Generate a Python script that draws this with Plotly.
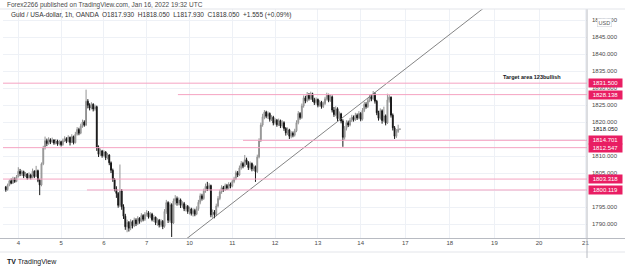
import plotly.graph_objects as go

# ---------------- data ----------------
first_open = 1801.0
closes = [
    1800.2,1801.5,1802.8,1802.1,1803.4,1802.6,1804.0,1805.6,1804.9,1805.5,
    1804.2,1804.8,1803.6,1804.5,1803.8,1805.6,1804.1,1805.8,1803.0,1801.6,
    1807.8,1812.5,1814.6,1813.8,1814.9,1814.2,1814.8,1813.9,1814.5,1813.6,
    1814.3,1813.4,1814.6,1815.2,1814.4,1815.6,1814.1,1815.8,1814.0,1816.5,
    1817.9,1816.8,1818.9,1820.1,1819.2,
    1826.2,1825.0,1824.2,1825.3,1823.9,1824.6,1812.5,
    1810.6,1811.6,1810.2,1811.3,1809.6,1810.4,1808.1,1805.9,1803.2,1800.4,
    1799.1,1795.6,1799.8,1795.2,1792.4,1789.3,1790.6,1788.9,1790.8,1789.6,
    1791.3,1790.2,1791.8,1790.9,1792.6,1791.5,1792.9,1793.4,1792.2,1793.0,
    1791.4,1792.1,1790.5,1791.2,1789.8,1790.9,1789.4,
    1793.8,1796.4,1791.2,1795.8,1790.4,1796.9,1797.6,1796.3,1797.2,1795.6,
    1796.1,1794.6,1795.3,1793.8,1794.5,1793.2,1794.1,1793.0,1794.6,1796.5,
    1798.4,1797.6,1799.8,1801.2,1800.5,1801.4,1792.8,1793.6,1792.9,1795.4,
    1797.6,1799.5,1800.8,1800.2,1801.4,1800.7,1801.8,1801.2,1802.6,1803.4,
    1805.2,1804.5,1806.6,1807.9,1807.1,1809.0,1808.2,1806.7,1807.9,1806.3,
    1807.0,1805.5,1809.8,1814.6,1819.2,1821.6,1823.0,
    1821.8,1822.6,1820.9,1821.5,1819.8,1820.6,1819.3,1820.5,1818.9,1819.9,
    1818.2,1816.9,1817.8,1815.9,1816.8,1816.2,1817.5,1819.9,1822.6,1821.4,
    1824.8,1827.2,1826.3,1828.1,1827.0,1828.4,1826.6,1825.8,1826.7,1825.0,
    1825.9,1824.6,1825.5,1826.9,1828.0,1826.4,1827.5,1823.6,1822.3,1824.0,
    1821.1,1822.5,1820.4,1815.6,1818.2,1819.9,1819.2,1820.6,1821.5,1820.8,
    1822.1,1821.3,1822.6,1820.9,1823.5,1825.3,1824.6,1826.4,1827.5,1826.9,
    1828.3,1826.2,1822.8,1821.2,1823.4,1820.5,1821.9,1819.8,1826.6,1827.4,
    1822.1,1818.4,1815.9,1817.3,1817.93,1818.05,
]
highs = [
    1801.3,1802.0,1803.2,1803.5,1804.0,1803.8,1804.5,1806.8,1806.3,1806.0,
    1805.8,1805.4,1805.1,1805.3,1804.9,1806.4,1805.9,1807.2,1806.1,1803.4,
    1808.2,1813.1,1815.8,1815.2,1815.6,1815.3,1815.5,1815.0,1815.1,1814.9,
    1814.8,1814.6,1815.2,1815.9,1815.6,1816.2,1815.8,1816.5,1816.1,1817.2,
    1818.6,1818.4,1819.6,1820.8,1820.6,
    1829.6,1826.8,1825.6,1825.9,1825.6,1825.2,1824.9,
    1813.2,1812.3,1811.9,1811.8,1811.5,1811.0,1810.6,1808.5,1806.4,1803.6,
    1801.2,1799.5,1807.6,1800.4,1795.9,1793.1,1791.4,1791.0,1791.5,1791.2,
    1792.0,1791.8,1792.4,1792.1,1793.3,1793.0,1793.6,1794.2,1793.9,1793.6,
    1793.4,1792.8,1792.3,1791.8,1791.6,1791.5,1791.3,
    1794.5,1797.2,1796.8,1796.5,1796.2,1797.6,1798.6,1798.2,1797.9,1797.6,
    1796.8,1796.6,1795.9,1795.7,1795.2,1794.9,1794.7,1794.6,1795.3,1797.2,
    1799.1,1799.0,1800.5,1802.0,1802.5,1802.1,1801.7,1794.4,1794.2,1796.1,
    1798.3,1800.2,1801.5,1801.3,1802.0,1801.9,1802.4,1802.3,1803.2,1804.0,
    1805.8,1805.7,1807.3,1808.6,1808.4,1810.4,1809.6,1808.6,1808.5,1808.2,
    1807.6,1807.3,1810.5,1815.3,1819.9,1822.5,1823.6,
    1823.4,1823.2,1822.9,1822.1,1821.9,1821.2,1821.0,1821.1,1820.8,1820.6,
    1820.3,1818.6,1818.5,1818.1,1817.4,1817.3,1818.1,1820.6,1823.3,1823.0,
    1825.5,1827.9,1827.8,1828.9,1828.6,1829.0,1828.7,1827.2,1827.3,1827.0,
    1826.5,1826.3,1826.1,1827.5,1828.7,1828.4,1828.2,1827.9,1824.5,1824.7,
    1824.4,1823.2,1822.8,1820.9,1818.9,1820.6,1820.5,1821.3,1822.2,1822.0,
    1822.8,1822.6,1823.3,1823.0,1824.2,1826.0,1825.9,1827.1,1828.2,1828.3,
    1829.2,1828.8,1826.6,1823.4,1824.1,1823.8,1824.6,1822.3,1828.4,1828.0,
    1827.6,1822.6,1818.9,1818.0,1819.3,1818.05,
]
lows = [
    1799.6,1799.9,1801.2,1801.8,1801.9,1802.2,1802.4,1803.8,1804.2,1804.3,
    1803.6,1803.9,1803.1,1803.4,1803.2,1803.5,1803.6,1803.9,1802.4,1798.6,
    1801.2,1807.4,1812.0,1813.0,1813.4,1813.6,1813.9,1813.4,1813.5,1813.1,
    1813.2,1812.9,1813.1,1814.2,1813.9,1814.1,1813.2,1813.9,1813.5,1813.8,
    1816.1,1816.2,1816.5,1818.4,1818.7,
    1818.9,1824.1,1823.5,1823.8,1823.2,1823.4,1811.6,
    1809.8,1810.1,1809.6,1809.9,1808.9,1809.1,1807.4,1805.1,1802.5,1799.7,
    1797.8,1794.9,1795.1,1794.3,1791.6,1788.4,1787.7,1787.9,1788.3,1788.8,
    1789.2,1789.5,1789.8,1790.2,1790.6,1790.9,1791.0,1792.3,1791.7,1791.8,
    1790.9,1790.7,1789.8,1789.6,1789.1,1789.2,1788.6,
    1789.0,1793.1,1790.4,1790.6,1786.3,1790.1,1795.8,1795.5,1795.6,1794.8,
    1794.9,1793.9,1793.8,1793.1,1792.9,1792.6,1792.3,1792.4,1792.7,1794.0,
    1795.9,1797.0,1797.2,1799.3,1799.8,1800.0,1792.1,1791.9,1791.8,1792.4,
    1795.0,1797.1,1799.0,1799.6,1799.8,1800.1,1800.2,1800.6,1800.9,1802.1,
    1803.0,1803.9,1804.2,1806.1,1806.5,1806.9,1807.5,1806.0,1806.1,1805.6,
    1805.7,1802.5,1805.1,1809.4,1814.2,1818.7,1820.9,
    1821.2,1821.0,1820.2,1820.4,1819.1,1819.3,1818.7,1818.9,1818.3,1818.4,
    1817.5,1816.1,1816.3,1815.1,1815.3,1815.6,1815.8,1817.1,1819.4,1820.8,
    1821.0,1824.3,1825.6,1825.9,1826.4,1826.6,1826.0,1825.1,1825.2,1824.4,
    1824.6,1824.0,1824.2,1825.1,1826.4,1825.9,1826.0,1822.9,1821.6,1821.8,
    1820.4,1820.6,1819.7,1812.8,1814.9,1817.6,1818.6,1818.8,1820.1,1820.2,
    1820.4,1820.7,1820.9,1820.3,1820.5,1823.0,1824.0,1824.2,1825.9,1826.2,
    1826.5,1825.5,1822.1,1820.5,1820.8,1819.6,1820.1,1819.1,1819.5,1825.8,
    1821.4,1817.6,1815.1,1815.4,1816.9,1817.93,
]
day_labels = ["4", "5", "6", "7", "10", "11", "12", "13", "14", "17", "18", "19", "20", "21"]
day_hours = [7, 31, 55, 79, 103, 127, 151, 175, 199, 224, 249, 274, 299, 325]

level_values = [1831.500, 1828.138, 1814.701, 1812.547, 1803.318, 1800.119]
level_start_hours = [None, 96.5, 133.0, None, None, 45.5]

trend_hours = [95, 270]
trend_prices = [1783.2, 1854.4]

last_price = 1818.050

# ---------------- layout geometry ----------------
W, H = 625, 271
L, R, T, B = 3, 38, 9, 33
PW, PH = W - L - R, H - T - B
X_RANGE = [-1.58, 325.9]
Y_RANGE = [1786.0, 1853.3]


def fx(px):
    return (px - L) / PW


def fy(py):
    return (H - B - py) / PH


opens = [first_open] + closes[:-1]
hours = list(range(len(closes)))

fig = go.Figure()
fig.add_trace(go.Candlestick(
    x=hours, open=opens, high=highs, low=lows, close=closes,
    increasing=dict(line=dict(color="#939393", width=1), fillcolor="#b8b8b8"),
    decreasing=dict(line=dict(color="#161616", width=1), fillcolor="#161616"),
    whiskerwidth=0, hoverinfo="skip", showlegend=False,
))

fig.add_trace(go.Scatter(
    x=trend_hours, y=trend_prices, mode="lines",
    line=dict(color="#666666", width=0.8), hoverinfo="skip", showlegend=False,
))

shapes = []
annotations = []
pink_line = "#f5a3c2"
pink_box = "#e91e63"
for val, start in zip(level_values, level_start_hours):
    x0 = X_RANGE[0] if start is None else start
    shapes.append(dict(type="line", xref="x", yref="y", x0=x0, x1=X_RANGE[1],
                       y0=val, y1=val, line=dict(color=pink_line, width=1), layer="above"))
    annotations.append(dict(xref="paper", yref="y", x=fx(588), y=val, xanchor="left",
                            yanchor="middle", text=f"{val:.3f}", showarrow=False,
                            bgcolor=pink_box, font=dict(color="white", size=6, family="Liberation Sans"),
                            width=33, height=8, borderpad=0, align="center"))

annotations.append(dict(xref="paper", yref="y", x=fx(589), y=last_price, xanchor="left",
                        yanchor="middle", text=f"{last_price:.3f}", showarrow=False,
                        bgcolor="white", font=dict(color="#131722", size=6, family="Liberation Sans"),
                        width=31, height=7, borderpad=0))

# Target text
annotations.append(dict(xref="paper", yref="paper", x=fx(501), y=fy(77), xanchor="left",
                        yanchor="middle", text="<b>Target area 123bullish</b>", showarrow=False,
                        font=dict(color="#131722", size=5.5, family="Liberation Sans")))

# headers
annotations.append(dict(xref="paper", yref="paper", x=fx(5), y=fy(5), xanchor="left",
                        yanchor="middle", showarrow=False,
                        text="Forex2266 published on TradingView.com, Jan 16, 2022 19:32 UTC",
                        font=dict(color="#4a4a4a", size=6.5, family="Liberation Sans")))
annotations.append(dict(xref="paper", yref="paper", x=fx(9), y=fy(15), xanchor="left",
                        yanchor="middle", showarrow=False,
                        text="Guld / USA-dollar, 1h, OANDA  O1817.930  H1818.050  L1817.930  C1818.050  +1.555 (+0.09%)",
                        font=dict(color="#333333", size=6.5, family="Liberation Sans")))
# USD box
annotations.append(dict(xref="paper", yref="paper", x=fx(604), y=fy(22), xanchor="center",
                        yanchor="middle", showarrow=False, text="USD",
                        bgcolor="white", bordercolor="#d1d4dc", borderwidth=0.6, borderpad=1,
                        font=dict(color="#555555", size=5.5, family="Liberation Sans")))
# TradingView footer
annotations.append(dict(xref="paper", yref="paper", x=fx(5), y=fy(262), xanchor="left",
                        yanchor="middle", showarrow=False,
                        text="<b>TV</b> TradingView",
                        font=dict(color="#131722", size=7, family="Liberation Sans")))

# frame lines
shapes += [
    dict(type="line", xref="paper", yref="paper", x0=fx(0), x1=fx(625), y0=fy(238.5), y1=fy(238.5),
         line=dict(color="#b8bbc2", width=1.2)),
    dict(type="line", xref="paper", yref="paper", x0=fx(0), x1=fx(625), y0=fy(252), y1=fy(252),
         line=dict(color="#e3e5ea", width=1)),
    dict(type="line", xref="paper", yref="paper", x0=fx(587), x1=fx(587), y0=fy(9), y1=fy(258),
         line=dict(color="#b8bbc2", width=1)),
    dict(type="line", xref="paper", yref="paper", x0=fx(0), x1=fx(625), y0=fy(9), y1=fy(9),
         line=dict(color="#e3e5ea", width=1)),
]

fig.update_layout(
    width=W, height=H,
    margin=dict(l=L, r=R, t=T, b=B, pad=0),
    paper_bgcolor="white", plot_bgcolor="white",
    shapes=shapes, annotations=annotations,
    font=dict(family="Liberation Sans", size=6, color="#4a4a4a"),
    xaxis=dict(range=X_RANGE, tickvals=day_hours, ticktext=day_labels,
               showgrid=True, gridcolor="#eef1f6", gridwidth=1, zeroline=False,
               showline=False, ticks="", tickfont=dict(size=6, color="#4a4a4a"),
               rangeslider=dict(visible=False), fixedrange=True),
    yaxis=dict(range=Y_RANGE, side="right", tick0=1790, dtick=5, tickformat=".3f",
               showgrid=True, gridcolor="#eef1f6", gridwidth=1, zeroline=False,
               showline=False, ticks="", ticklabelstandoff=4,
               tickfont=dict(size=6, color="#4a4a4a"), fixedrange=True),
    showlegend=False,
)

fig.write_html("out.html")
